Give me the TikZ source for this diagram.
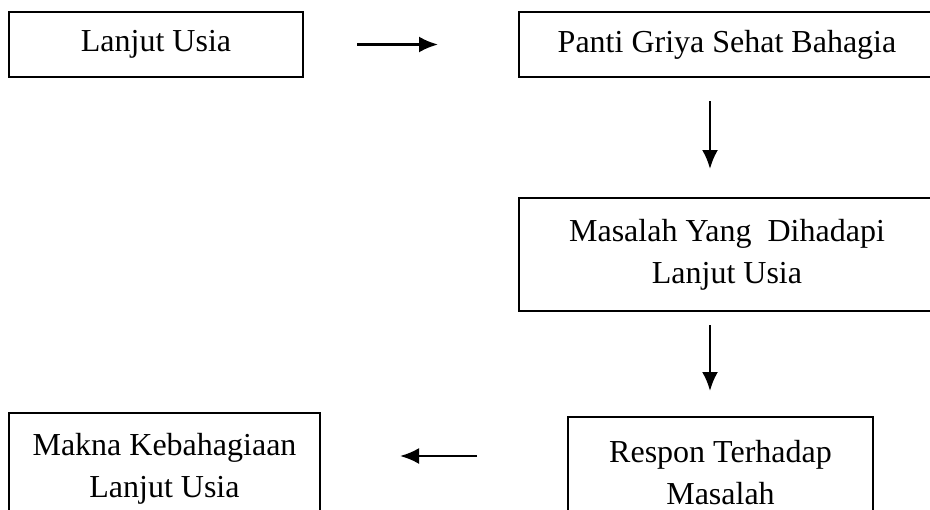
\documentclass[tikz,border=0pt]{standalone}
\usepackage{fontspec}
\setmainfont{Liberation Serif}
\usetikzlibrary{arrows.meta,positioning}

\begin{document}
\begin{tikzpicture}[x=1pt,y=1pt,>={Latex[length=9.5pt,width=8pt]},
		box/.style={draw, line width=1pt, align=center, inner sep=0pt,
			font=\fontsize{16pt}{21pt}\selectfont},
		flow/.style={->, line width=1.3pt}]
						\useasboundingbox (0,0) rectangle (465,-254.5);
						\clip (0,0) rectangle (465,-254.5);

						\node[box, minimum width=147pt, minimum height=32.5pt] (lansia) at (78,-22.25) {Lanjut Usia};
						\node[box, minimum width=208pt, minimum height=32.5pt] (panti) at (363.5,-22.25) {Panti Griya Sehat Bahagia};

						\node[box, minimum width=208pt, minimum height=56.5pt] (masalah) at (363.5,-127.25) {Masalah Yang\ \ Dihadapi\\Lanjut Usia};

						\node[box, minimum width=152.5pt, minimum height=56pt] (respon) at (360.25,-236.5) {Respon Terhadap\\Masalah};
						\node[box, minimum width=155.5pt, minimum height=55.5pt] (makna) at (82.25,-234.25) {Makna Kebahagiaan\\Lanjut Usia};

						\coordinate (vline) at (355,0);
						\coordinate (hline) at (0,-228);

						\draw[flow, shorten <=26.5pt, shorten >=40pt] (lansia) to (panti);
						\draw[flow, shorten <=11.5pt, shorten >=14pt] (panti.south -| vline) to (masalah.north -| vline);
						\draw[flow, shorten <=6.5pt, shorten >=12.5pt] (masalah.south -| vline) to (respon.north -| vline);
						\draw[flow, shorten <=45pt, shorten >=39.5pt] (respon.west |- hline) to (makna.east |- hline);

					\end{tikzpicture}
\end{document}
